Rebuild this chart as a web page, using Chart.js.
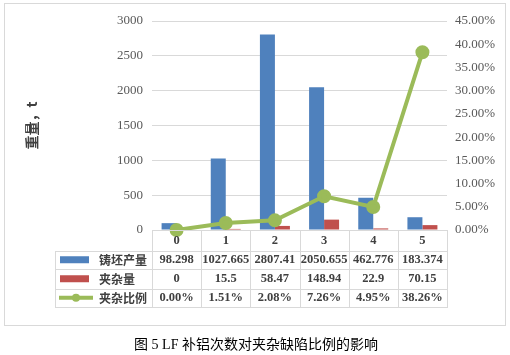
<!DOCTYPE html>
<html>
<head>
<meta charset="utf-8">
<script src="https://cdn.jsdelivr.net/npm/chart.js@4/dist/chart.umd.min.js"></script>
<style>
html,body{margin:0;padding:0;background:#fff;}
#wrap{width:510px;height:355px;position:relative;}
</style>
</head>
<body>
<div id="wrap"><canvas id="c" width="510" height="355"></canvas></div>
<script>
// ---- data ----
const categories = ['0', '1', '2', '3', '4', '5'];
const seriesNames = ['铸坯产量', '夹杂量', '夹杂比例'];
const outputValues = [98.298, 1027.665, 2807.41, 2050.655, 462.776, 183.374];
const outputLabels = ['98.298', '1027.665', '2807.41', '2050.655', '462.776', '183.374'];
const inclusionValues = [0, 15.5, 58.47, 148.94, 22.9, 70.15];
const inclusionLabels = ['0', '15.5', '58.47', '148.94', '22.9', '70.15'];
const ratioValues = [0.0000, 0.0151, 0.0208, 0.0726, 0.0495, 0.3826];
const ratioLabels = ['0.00%', '1.51%', '2.08%', '7.26%', '4.95%', '38.26%'];
const yAxisTitle = '重量，t';
const chartCaption = '图 5 LF 补铝次数对夹杂缺陷比例的影响';

const BLUE = '#4F81BD', RED = '#C0504D', GREEN = '#9BBB59';
const GRID = '#D9D9D9', TICK = '#595959', TXT = '#404040';
const SERIF = "'Liberation Serif', 'Noto Sans CJK SC', serif";
const CJK = "'Noto Sans CJK SC', sans-serif";

const tablePlugin = {
  id: 'tablePlugin',
  beforeDraw(chart) {
    const ctx = chart.ctx;
    ctx.save();
    ctx.fillStyle = '#fff';
    ctx.fillRect(0, 0, chart.width, chart.height);
    ctx.strokeStyle = GRID;
    ctx.lineWidth = 1;
    ctx.strokeRect(4.5, 3.5, 501, 322);
    ctx.restore();
  },
  afterDraw(chart) {
    const ctx = chart.ctx;
    const area = chart.chartArea;
    const xs = chart.scales.x;
    const n = categories.length;
    const colW = (area.right - area.left) / n;
    const top = area.bottom;
    const rowTops = [top, top + 20.5, top + 39, top + 58.5, top + 77];
    const tableLeft = 55;
    ctx.save();
    ctx.strokeStyle = GRID;
    ctx.lineWidth = 1;
    ctx.beginPath();
    ctx.moveTo(area.left, Math.round(top) + 0.5);
    ctx.lineTo(area.right, Math.round(top) + 0.5);
    for (let r = 1; r < rowTops.length; r++) {
      const y = Math.round(rowTops[r]) + 0.5;
      ctx.moveTo(tableLeft, y);
      ctx.lineTo(area.right, y);
    }
    for (let i = 0; i <= n; i++) {
      const x = Math.round(xs.getPixelForValue(Math.min(i, n - 1)) + (i < n ? -colW / 2 : colW / 2)) + 0.5;
      ctx.moveTo(x, Math.round(top));
      ctx.lineTo(x, Math.round(rowTops[4]) + 1);
    }
    ctx.moveTo(tableLeft + 0.5, Math.round(rowTops[1]));
    ctx.lineTo(tableLeft + 0.5, Math.round(rowTops[4]) + 1);
    ctx.stroke();

    ctx.fillStyle = TXT;
    ctx.textAlign = 'center';
    ctx.textBaseline = 'middle';
    ctx.font = 'bold 12.5px ' + SERIF;
    const rows = [categories, outputLabels, inclusionLabels, ratioLabels];
    for (let r = 0; r < rows.length; r++) {
      const cy = (rowTops[r] + rowTops[r + 1]) / 2 + 0.5;
      for (let i = 0; i < n; i++) {
        ctx.fillText(rows[r][i], xs.getPixelForValue(i), cy);
      }
    }
    ctx.textAlign = 'left';
    ctx.font = 'bold 12px ' + CJK;
    for (let s = 0; s < 3; s++) {
      const cy = (rowTops[s + 1] + rowTops[s + 2]) / 2;
      if (s < 2) {
        ctx.fillStyle = s === 0 ? BLUE : RED;
        ctx.fillRect(60, cy - 3.5, 29, 7);
      } else {
        ctx.strokeStyle = GREEN;
        ctx.lineWidth = 4;
        ctx.beginPath();
        ctx.moveTo(59, cy);
        ctx.lineTo(93, cy);
        ctx.stroke();
        ctx.fillStyle = GREEN;
        ctx.beginPath();
        ctx.arc(76, cy, 4, 0, Math.PI * 2);
        ctx.fill();
      }
      ctx.fillStyle = TXT;
      ctx.fillText(seriesNames[s], 99, cy + 0.5);
    }
    ctx.fillStyle = '#000';
    ctx.textAlign = 'center';
    ctx.font = '14px ' + SERIF;
    ctx.fillText(chartCaption, 256, 345);
    ctx.restore();
  }
};

Chart.defaults.font.family = SERIF;
Chart.defaults.font.size = 13;

new Chart(document.getElementById('c'), {
  type: 'bar',
  data: {
    labels: categories,
    datasets: [
      {
        type: 'line',
        label: seriesNames[2],
        data: ratioValues,
        yAxisID: 'y1',
        borderColor: GREEN,
        backgroundColor: GREEN,
        borderWidth: 4,
        pointRadius: 5,
        pointBackgroundColor: GREEN,
        pointBorderColor: GREEN,
        tension: 0,
        clip: false,
        order: 0
      },
      {
        label: seriesNames[0],
        data: outputValues,
        backgroundColor: BLUE,
        yAxisID: 'y',
        barPercentage: 1,
        categoryPercentage: 0.61,
        order: 1
      },
      {
        label: seriesNames[1],
        data: inclusionValues,
        backgroundColor: RED,
        yAxisID: 'y',
        barPercentage: 1,
        categoryPercentage: 0.61,
        order: 1
      }
    ]
  },
  options: {
    responsive: false,
    animation: false,
    devicePixelRatio: 1,
    layout: { padding: { left: 0, right: 0, top: 21, bottom: 125 } },
    plugins: { legend: { display: false }, tooltip: { enabled: false }, title: { display: false } },
    scales: {
      x: { display: false },
      y: {
        position: 'left',
        min: 0, max: 3000,
        ticks: { stepSize: 500, color: TICK, padding: 9, font: { size: 13 }, callback: v => String(v) },
        grid: { color: GRID, drawTicks: false, lineWidth: 1 },
        border: { display: false },
        title: {
          display: true, text: yAxisTitle, color: TXT,
          font: { size: 14, weight: 'bold', family: CJK },
          padding: { top: 23, bottom: 0 }
        },
        afterFit(scale) { scale.width = 152; }
      },
      y1: {
        position: 'right',
        min: 0, max: 0.45,
        ticks: {
          stepSize: 0.05, color: TICK, padding: 8, font: { size: 13 },
          callback: v => (v * 100).toFixed(2) + '%'
        },
        grid: { display: false, drawTicks: false },
        border: { display: false },
        afterFit(scale) { scale.width = 63; }
      }
    }
  },
  plugins: [tablePlugin]
});
</script>
</body>
</html>
